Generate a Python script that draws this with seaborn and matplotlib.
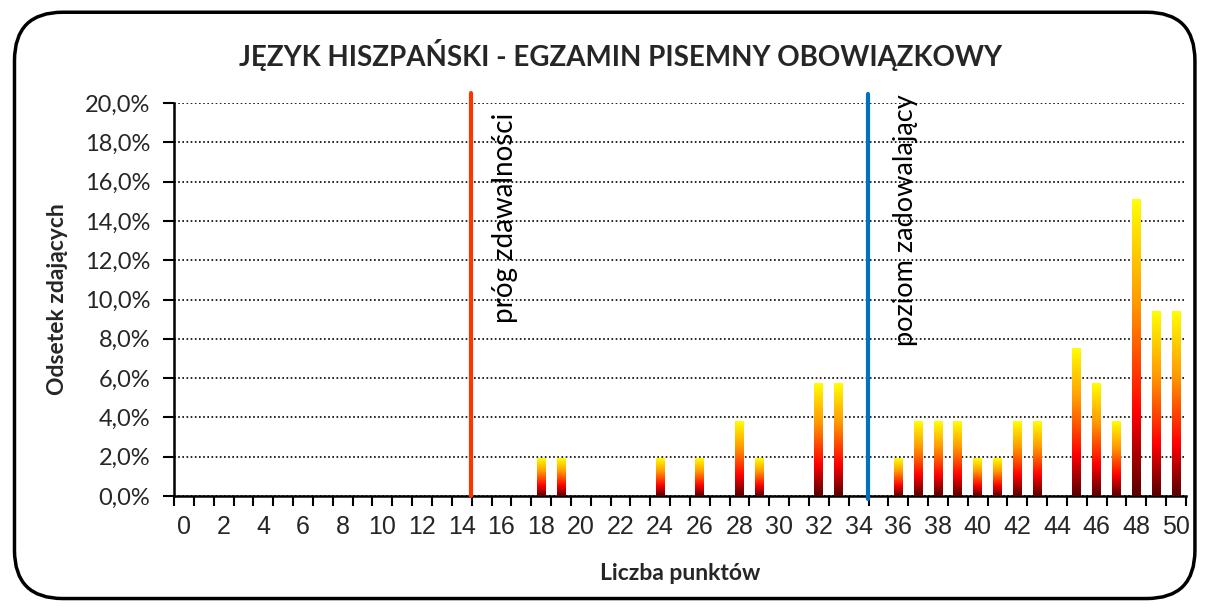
import numpy as np
import pandas as pd
import matplotlib
matplotlib.use("Agg")
import matplotlib.pyplot as plt
import seaborn as sns
from matplotlib.colors import LinearSegmentedColormap
from matplotlib.patches import FancyBboxPatch

# wyniki: liczba punktow -> odsetek zdajacych (%)
punkty = list(range(51))
niezerowe_pkt = [18, 19, 24, 26, 28, 29, 32, 33, 36, 37, 38, 39, 40, 41, 42, 43, 45, 46, 47, 48, 49, 50]
niezerowe_proc = [1.9, 1.9, 1.9, 1.9, 3.8, 1.9, 5.7, 5.7, 1.9, 3.8, 3.8, 3.8, 1.9, 1.9, 3.8, 3.8, 7.5, 5.7, 3.8, 15.1, 9.4, 9.4]
prog_zdawalnosci = 14.47
poziom_zadowalajacy = 34.48
y_ticks = [0, 2, 4, 6, 8, 10, 12, 14, 16, 18, 20]

proc = dict(zip(niezerowe_pkt, niezerowe_proc))
df = pd.DataFrame({"pkt": punkty, "proc": [proc.get(p, 0.0) for p in punkty]})

sns.set_theme(style="white")
plt.rcParams['font.family'] = ['Lato', 'DejaVu Sans']

fig = plt.figure(figsize=(12.07, 6.12), dpi=100)
ax = fig.add_axes([0.1442, 0.1895, 0.8384, 0.6422])

sns.barplot(data=df, x="pkt", y="proc", order=punkty, width=0.45, ax=ax, color="red")

# gradient w kazdym slupku (ciemnoczerwony -> czerwony -> pomaranczowy -> zolty)
cmap = LinearSegmentedColormap.from_list("grad", [(0, "#560000"), (0.28, "#ff0000"), (0.65, "#ff9900"), (1, "#ffff00")])
grad = np.linspace(0, 1, 256).reshape(-1, 1)
for p in ax.patches:
    h = p.get_height()
    if h <= 0:
        p.set_visible(False)
        continue
    x0 = p.get_x()
    ax.imshow(grad, extent=[x0, x0 + p.get_width(), 0, h], origin="lower", aspect="auto", cmap=cmap, zorder=3)
    p.set_visible(False)

ax.set_xlim(-0.5, 50.5)
ax.set_ylim(0, 20)

ax.set_yticks(y_ticks)
ax.set_yticklabels([f"{v:.1f}%".replace(".", ",") for v in y_ticks])
ax.yaxis.grid(True, linestyle=(0, (1, 1.5)), color="black", linewidth=1.2)
ax.set_axisbelow(True)

ax.set_xticks(np.arange(0, 51, 2))
ax.set_xticklabels([str(v) for v in range(0, 51, 2)])
ax.set_xticks(np.arange(-0.5, 51, 1), minor=True)
ax.tick_params(axis="x", which="major", length=0, pad=14, labelsize=18, labelfontfamily="Liberation Sans")
ax.tick_params(axis="x", which="minor", length=7, width=1.5, color="black", direction="out", bottom=True)
ax.tick_params(axis="y", length=8, width=1.5, color="black", direction="out", left=True, pad=9, labelsize=17)

for s in ["top", "right"]:
    ax.spines[s].set_visible(False)
for s in ["left", "bottom"]:
    ax.spines[s].set_color("black")
    ax.spines[s].set_linewidth(1.8)

ax.plot([prog_zdawalnosci, prog_zdawalnosci], [0, 20.5], color="#ff3300", linewidth=3, clip_on=False, zorder=4)
ax.plot([poziom_zadowalajacy, poziom_zadowalajacy], [-0.15, 20.45], color="#0070c0", linewidth=3, clip_on=False, zorder=4)
ax.text(16.2, 19.5, "próg zdawalności", rotation=90, ha="center", va="top", fontsize=20, color="black")
ax.text(36.35, 20.45, "poziom zadowalający", rotation=90, ha="center", va="top", fontsize=19.5, color="black")

ax.set_xlabel("Liczba punktów", fontsize=16.5, fontweight="bold", labelpad=17)
ax.set_ylabel("Odsetek zdających", fontsize=16.5, fontweight="bold", labelpad=12)
fig.text(0.514, 0.91, "JĘZYK HISZPAŃSKI - EGZAMIN PISEMNY OBOWIĄZKOWY", ha="center", va="center",
         fontsize=20, fontweight="bold")

frame = FancyBboxPatch((0.012, 0.022), 0.978, 0.958, boxstyle="round,pad=0,rounding_size=0.04",
                       transform=fig.transFigure, fill=False, edgecolor="black", linewidth=2.5,
                       mutation_aspect=1207 / 612)
fig.patches.append(frame)

fig.savefig("out.png", dpi=100)
